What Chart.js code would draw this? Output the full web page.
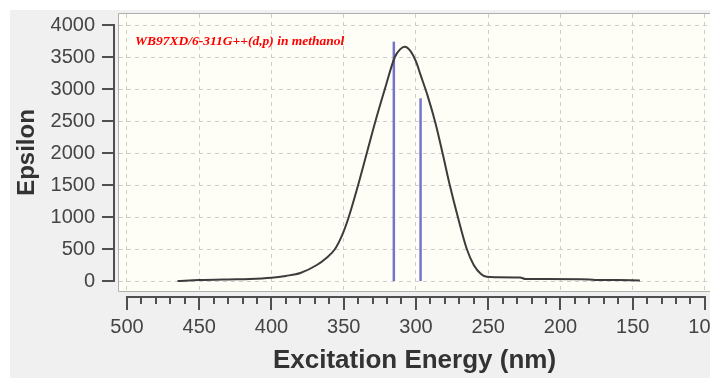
<!DOCTYPE html>
<html>
<head>
<meta charset="utf-8">
<script src="https://cdn.jsdelivr.net/npm/chart.js@4.4.1/dist/chart.umd.min.js"></script>
<style>
  html, body { margin: 0; padding: 0; background: #fff; }
  #c { position: absolute; left: 0; top: 0; }
</style>
</head>
<body>
<canvas id="c" width="710" height="378"></canvas>
<script>
// spectrum
const wavelengths = [465, 450, 430, 415, 400, 390, 380, 368.6, 362, 356, 351, 346.5, 340, 334, 328, 321.5, 314.6, 311, 307.7, 304, 300, 296.8, 292, 286.3, 281.4, 276.6, 271, 264.8, 260, 255, 251, 245, 228, 224, 210, 180, 175, 160, 145];
const epsilon = [0, 15, 25, 30, 50, 80, 125, 250, 360, 500, 720, 1000, 1500, 2000, 2500, 3000, 3500, 3620, 3661, 3600, 3430, 3220, 2900, 2450, 1980, 1500, 1000, 500, 250, 110, 65, 60, 55, 30, 30, 25, 15, 15, 10];

// excitations (sticks)
const stickNm = [315.3, 296.8];
const stickEps = [3740, 2855];

const xTicks = [500, 450, 400, 350, 300, 250, 200, 150, 100];
const yTicks = [0, 500, 1000, 1500, 2000, 2500, 3000, 3500, 4000];
const titleText = 'WB97XD/6-311G++(d,p) in methanol';

const minorTicks = [];
for (let v = 500; v >= 100; v -= 10) {
  if (v % 50 !== 0) minorTicks.push(v);
}

const datasets = [{
  label: 'spectrum',
  data: wavelengths.map((w, i) => ({ x: w, y: epsilon[i] })),
  showLine: true,
  borderColor: '#3c3c3c',
  borderWidth: 2,
  pointRadius: 0,
  cubicInterpolationMode: 'monotone'
}];
stickNm.forEach((w, i) => {
  datasets.push({
    label: 'stick ' + (i + 1),
    data: [{ x: w, y: 0 }, { x: w, y: stickEps[i] }],
    showLine: true,
    borderColor: '#7474d0',
    borderWidth: 2.5,
    pointRadius: 0
  });
});

const frame = {
  id: 'frame',
  beforeDraw(chart) {
    const { ctx, chartArea: a } = chart;
    ctx.save();
    ctx.fillStyle = '#fff';
    ctx.fillRect(0, 0, chart.width, chart.height);
    ctx.fillStyle = '#f0f0f0';
    ctx.fillRect(10, 10, chart.width - 10, chart.height - 10);
    ctx.fillStyle = '#fefef6';
    ctx.fillRect(a.left, a.top, a.right - a.left, a.bottom - a.top);
    ctx.strokeStyle = '#b0b0b0';
    ctx.lineWidth = 1;
    ctx.beginPath();
    ctx.moveTo(a.right, a.top - 0.5);
    ctx.lineTo(a.left - 0.5, a.top - 0.5);
    ctx.lineTo(a.left - 0.5, a.bottom + 0.5);
    ctx.lineTo(a.right, a.bottom + 0.5);
    ctx.stroke();
    ctx.restore();
  },
  afterDraw(chart) {
    const { ctx, chartArea: a, scales: { x, y } } = chart;
    ctx.save();
    ctx.strokeStyle = '#4f4f4f';
    ctx.lineWidth = 2;
    const ax = a.left - 5;
    const ay = a.bottom + 6;
    ctx.beginPath();
    ctx.moveTo(ax, y.getPixelForValue(4000) - 1);
    ctx.lineTo(ax, y.getPixelForValue(0) + 1);
    yTicks.forEach(v => {
      const p = Math.round(y.getPixelForValue(v));
      ctx.moveTo(ax, p);
      ctx.lineTo(ax - 12, p);
    });
    ctx.moveTo(x.getPixelForValue(500) - 1, ay);
    ctx.lineTo(x.getPixelForValue(100) + 1, ay);
    xTicks.forEach(v => {
      const p = Math.round(x.getPixelForValue(v));
      ctx.moveTo(p, ay);
      ctx.lineTo(p, ay + 13);
    });
    minorTicks.forEach(v => {
      const p = Math.round(x.getPixelForValue(v));
      ctx.moveTo(p, ay);
      ctx.lineTo(p, ay + 7);
    });
    ctx.stroke();

    ctx.fillStyle = '#ff0000';
    ctx.font = 'italic bold 13.5px "Liberation Serif"';
    ctx.textBaseline = 'middle';
    ctx.fillText(titleText, a.left + 16, 42);
    ctx.restore();
  }
};

function noPad(s) {
  s.paddingLeft = 0;
  s.paddingRight = 0;
  s.paddingTop = 0;
  s.paddingBottom = 0;
}

new Chart(document.getElementById('c'), {
  type: 'scatter',
  data: { datasets },
  options: {
    responsive: false,
    animation: false,
    devicePixelRatio: 1,
    layout: { padding: { top: 14, left: 0, right: 0, bottom: 0 } },
    plugins: { legend: { display: false }, tooltip: { enabled: false } },
    scales: {
      x: {
        type: 'linear',
        reverse: true,
        min: 96.5,
        max: 505.5,
        afterBuildTicks: s => { s.ticks = xTicks.map(v => ({ value: v })); },
        afterFit: s => { s.height = 87; noPad(s); },
        ticks: {
          autoSkip: false,
          maxRotation: 0,
          padding: 24,
          color: '#444',
          font: { family: 'Liberation Sans', size: 20 },
          callback: v => String(v)
        },
        grid: { color: '#cccccc', lineWidth: 1, drawTicks: false },
        border: { display: false, dash: [4, 4] },
        title: {
          display: true,
          text: 'Excitation Energy (nm)',
          color: '#333',
          font: { family: 'Liberation Sans', size: 26, weight: 'bold' },
          padding: { top: 0, bottom: 2 }
        }
      },
      y: {
        type: 'linear',
        min: -156,
        max: 4172,
        afterBuildTicks: s => { s.ticks = yTicks.map(v => ({ value: v })); },
        afterFit: s => { s.width = 119; noPad(s); },
        ticks: {
          autoSkip: false,
          padding: 24,
          color: '#444',
          font: { family: 'Liberation Sans', size: 20 },
          callback: v => String(v)
        },
        grid: { color: '#cccccc', lineWidth: 1, drawTicks: false },
        border: { display: false, dash: [4, 4] },
        title: {
          display: true,
          text: 'Epsilon',
          color: '#333',
          font: { family: 'Liberation Sans', size: 24, weight: 'bold' },
          padding: { top: 13, bottom: 0 }
        }
      }
    }
  },
  plugins: [frame]
});
</script>
</body>
</html>
